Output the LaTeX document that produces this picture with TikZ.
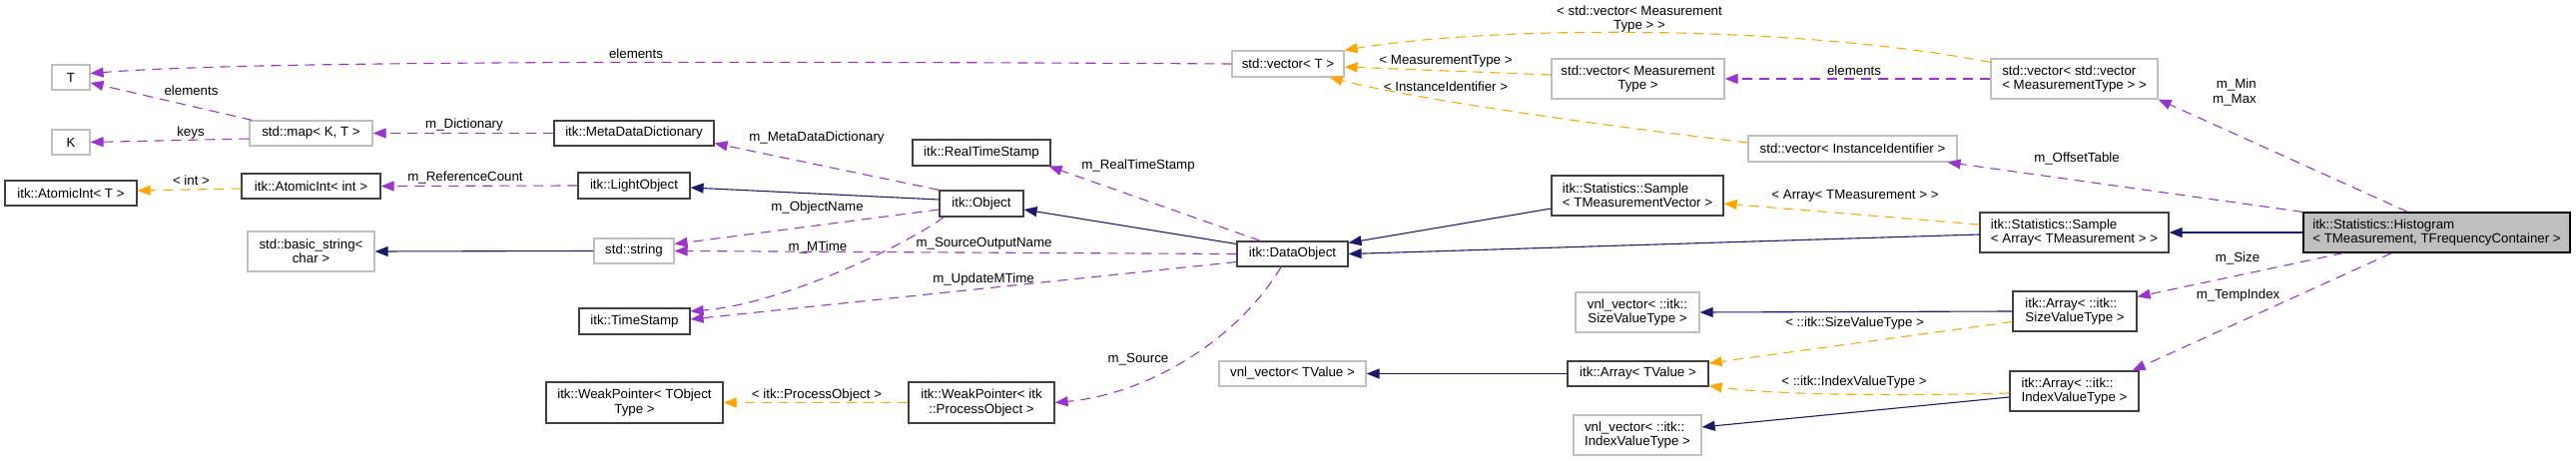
\documentclass[tikz,border=0pt]{standalone}
\usepackage{fontspec}
\setmainfont{Liberation Sans}
\usetikzlibrary{arrows.meta}
\definecolor{usecol}{HTML}{9A32CD}
\definecolor{tplcol}{HTML}{FFA500}
\definecolor{inhcol}{HTML}{191970}
\definecolor{gbord}{HTML}{BFBFBF}
\definecolor{bbord}{HTML}{404040}
\definecolor{hfill}{HTML}{BFBFBF}
\begin{document}
\begin{tikzpicture}[x=1pt,y=-1pt,
  every node/.style={font=\fontsize{13.3}{14.3}\selectfont, inner sep=0pt},
  cbox/.style={draw, rectangle, line width=1.2pt, align=center},
  gnode/.style={cbox, draw=gbord},
  bnode/.style={cbox, draw=bbord},
  lnode/.style={align=left},
  lbl/.style={align=center},
  uedge/.style={draw=usecol, line width=1.1pt, dash pattern=on 10pt off 7pt, -{Triangle[length=13pt,width=10pt]}},
  tedge/.style={draw=tplcol, line width=1.1pt, dash pattern=on 10pt off 7pt, -{Triangle[length=13pt,width=10pt]}},
  iedge/.style={draw=inhcol, line width=1.1pt, -{Triangle[length=13pt,width=10pt]}}
]
\useasboundingbox (0,0) rectangle (2580,462);

% nodes
\node[gnode, minimum width=38, minimum height=25] (T) at (71,77.5) {T};
\node[gnode, minimum width=38, minimum height=25] (K) at (71,142.5) {K};
\node[gnode, minimum width=123, minimum height=25] (map) at (311.5,133.5) {std::map< K, T >};
\node[bnode, minimum width=132, minimum height=25] (AIT) at (71,193.5) {itk::AtomicInt< T >};
\node[bnode, minimum width=139, minimum height=25] (AII) at (311.5,186.5) {itk::AtomicInt< int >};
\node[gnode, minimum width=127, minimum height=40] (bs) at (311.5,252) {std::basic\_string<\\char >};
\node[bnode, minimum width=160, minimum height=25] (MDD) at (635,133.5) {itk::MetaDataDictionary};
\node[bnode, minimum width=112, minimum height=26] (LO) at (635,186) {itk::LightObject};
\node[gnode, minimum width=80, minimum height=25] (str) at (635,251.5) {std::string};
\node[bnode, minimum width=111, minimum height=26] (TS) at (635.5,322) {itk::TimeStamp};
\node[bnode, minimum width=177, minimum height=41] (WPT) at (635.5,403.5) {itk::WeakPointer< TObject\\Type >};
\node[bnode, minimum width=84, minimum height=26] (Obj) at (983,204) {itk::Object};
\node[bnode, minimum width=138, minimum height=26] (RTS) at (983,153) {itk::RealTimeStamp};
\node[bnode, minimum width=146, minimum height=41] (WPO) at (983,403.5) {itk::WeakPointer< itk\\::ProcessObject >};
\node[bnode, minimum width=111, minimum height=25] (DO) at (1294.5,254.5) {itk::DataObject};
\node[gnode, minimum width=112, minimum height=26] (svT) at (1290,64) {std::vector< T >};
\node[gnode, minimum width=147, minimum height=25] (vnlT) at (1294.5,374.5) {vnl\_vector< TValue >};
\node[gnode, minimum width=173, minimum height=40] (svMT) at (1640.5,79) {std::vector< Measurement\\Type >};
\node[bnode, lnode, minimum width=172, minimum height=40] (S1) at (1640,196) {itk::Statistics::Sample\\< TMeasurementVector >};
\node[gnode, minimum width=124, minimum height=40] (vnlS) at (1640,313) {vnl\_vector< ::itk::\\SizeValueType >};
\node[bnode, minimum width=141, minimum height=25] (AT) at (1640.5,374.5) {itk::Array< TValue >};
\node[gnode, lnode, minimum width=128, minimum height=40] (vnlI) at (1640,436) {vnl\_vector< ::itk::\\IndexValueType >};
\node[gnode, minimum width=209, minimum height=26] (svInst) at (1855.5,149) {std::vector< InstanceIdentifier >};
\node[gnode, lnode, minimum width=167, minimum height=40] (svv) at (2077.5,79) {std::vector< std::vector\\< MeasurementType > >};
\node[bnode, lnode, minimum width=189, minimum height=40] (S2) at (2077.5,233) {itk::Statistics::Sample\\< Array< TMeasurement > >};
\node[bnode, lnode, minimum width=124, minimum height=40] (AS) at (2078,312) {itk::Array< ::itk::\\SizeValueType >};
\node[bnode, lnode, minimum width=129, minimum height=40] (AI) at (2077.5,392) {itk::Array< ::itk::\\IndexValueType >};
\node[cbox, lnode, draw=black, fill=hfill, minimum width=267, minimum height=40] (H) at (2440.5,233) {itk::Statistics::Histogram\\< TMeasurement, TFrequencyContainer >};

% edges
\draw[uedge] (svT.west) .. controls (700,61) and (250,61) .. ([yshift=4pt]T.east);
\draw[uedge] ([xshift=3pt]map.north west) -- ([yshift=-5.5pt]T.east);
\draw[uedge] ([yshift=-5.5pt]map.west) -- (K.east);
\draw[uedge] (MDD.west) -- (map.east);
\draw[tedge] ([yshift=-2.5pt]AII.west) -- ([yshift=2.5pt]AIT.east);
\draw[uedge] (LO.west) -- (AII.east);
\draw[iedge] ([yshift=4pt]Obj.west) -- ([yshift=-2pt]LO.east);
\draw[uedge] (Obj.north west) -- ([yshift=3pt]MDD.south east);
\draw[uedge] ([yshift=-6pt]Obj.west) -- ([yshift=7pt]str.east);
\draw[uedge] ([xshift=5pt]Obj.south west) .. controls (900,250) and (780,305) .. ([yshift=10pt]TS.east);
\draw[iedge] ([yshift=10pt]DO.west) -- ([yshift=-6pt]Obj.east);
\draw[uedge] ([xshift=-32pt]DO.north) -- ([xshift=-2pt]RTS.south east);
\draw[uedge] (DO.west) -- (str.east);
\draw[uedge] ([yshift=-8pt]DO.west) -- ([yshift=2pt]TS.east);
\draw[uedge] ([xshift=-11.5pt]DO.south) .. controls (1240,340) and (1150,395) .. (WPO.east);
\draw[tedge] (WPO.west) -- (WPT.east);
\draw[iedge] (str.west) -- (bs.east);
\draw[iedge] ([yshift=-13pt]S1.west) -- ([yshift=-2pt]DO.north east);
\draw[iedge] ([yshift=-2pt]S2.west) -- (DO.east);
\draw[tedge] ([yshift=8pt]S2.west) -- ([yshift=-8pt]S1.east);
\draw[iedge] (H.west) -- (S2.east);
\draw[uedge] ([xshift=-29pt]H.north) -- (svv.south east);
\draw[uedge] (H.north west) -- ([xshift=-10pt]svInst.south east);
\draw[uedge] ([xshift=-93.5pt]H.south) -- ([yshift=-6pt]AS.north east);
\draw[uedge] ([xshift=-45pt]H.south) -- ([xshift=-7pt]AI.north east);
\draw[tedge] ([yshift=4pt]svMT.west) -- ([yshift=-3pt]svT.east);
\draw[tedge] ([yshift=-4pt]svv.north west) .. controls (1800,25) and (1500,25) .. (svT.north east);
\draw[uedge] (svv.west) -- (svMT.east);
\draw[tedge] ([yshift=6pt]svInst.west) .. controls (1600,125) and (1420,100) .. ([xshift=-15pt]svT.south east);
\draw[iedge] (AS.west) -- (vnlS.east);
\draw[tedge] ([yshift=-10.5pt]AS.west) -- ([yshift=10.5pt]AT.east);
\draw[tedge] ([yshift=-2pt]AI.west) .. controls (1900,397) and (1780,396) .. ([yshift=1pt]AT.south east);
\draw[iedge] ([yshift=-6pt]AI.west) -- ([yshift=8pt]vnlI.east);
\draw[iedge] (AT.west) -- (vnlT.east);

% labels
\node[lbl] (l1) at (637,54) {elements};
\node[lbl] (l2) at (191.5,91) {elements};
\node[lbl] (l3) at (191,132.7) {keys};
\node[lbl] (l4) at (465,125) {m\_Dictionary};
\node[lbl] (l5) at (191.5,181) {< int >};
\node[lbl] (l6) at (466,178.3) {m\_ReferenceCount};
\node[lbl] (l7) at (818,138) {m\_MetaDataDictionary};
\node[lbl] (l8) at (818.5,208) {m\_ObjectName};
\node[lbl] (l9) at (819,247.7) {m\_MTime};
\node[lbl] (l10) at (985.6,244) {m\_SourceOutputName};
\node[lbl] (l11) at (985,280) {m\_UpdateMTime};
\node[lbl] (l12) at (1140,360) {m\_Source};
\node[lbl] (l13) at (818,395.7) {< itk::ProcessObject >};
\node[lbl] (l14) at (1140,166) {m\_RealTimeStamp};
\node[lbl] (l15) at (1448,61) {< MeasurementType >};
\node[lbl] (l16) at (1448,86.7) {< InstanceIdentifier >};
\node[lbl] (l17) at (1642,19) {< std::vector< Measurement\\Type > >};
\node[lbl] (l18) at (1857,70.7) {elements};
\node[lbl] (l19) at (1858,196.7) {< Array< TMeasurement > >};
\node[lbl] (l20) at (2080,159.3) {m\_OffsetTable};
\node[lbl, align=right, anchor=east] (l21) at (2260,92.5) {m\_Min\\m\_Max};
\node[lbl] (l22) at (2241,259) {m\_Size};
\node[lbl] (l23) at (2241.5,296) {m\_TempIndex};
\node[lbl] (l24) at (1857.6,324) {< ::itk::SizeValueType >};
\node[lbl] (l25) at (1857,383) {< ::itk::IndexValueType >};
\end{tikzpicture}
\end{document}
